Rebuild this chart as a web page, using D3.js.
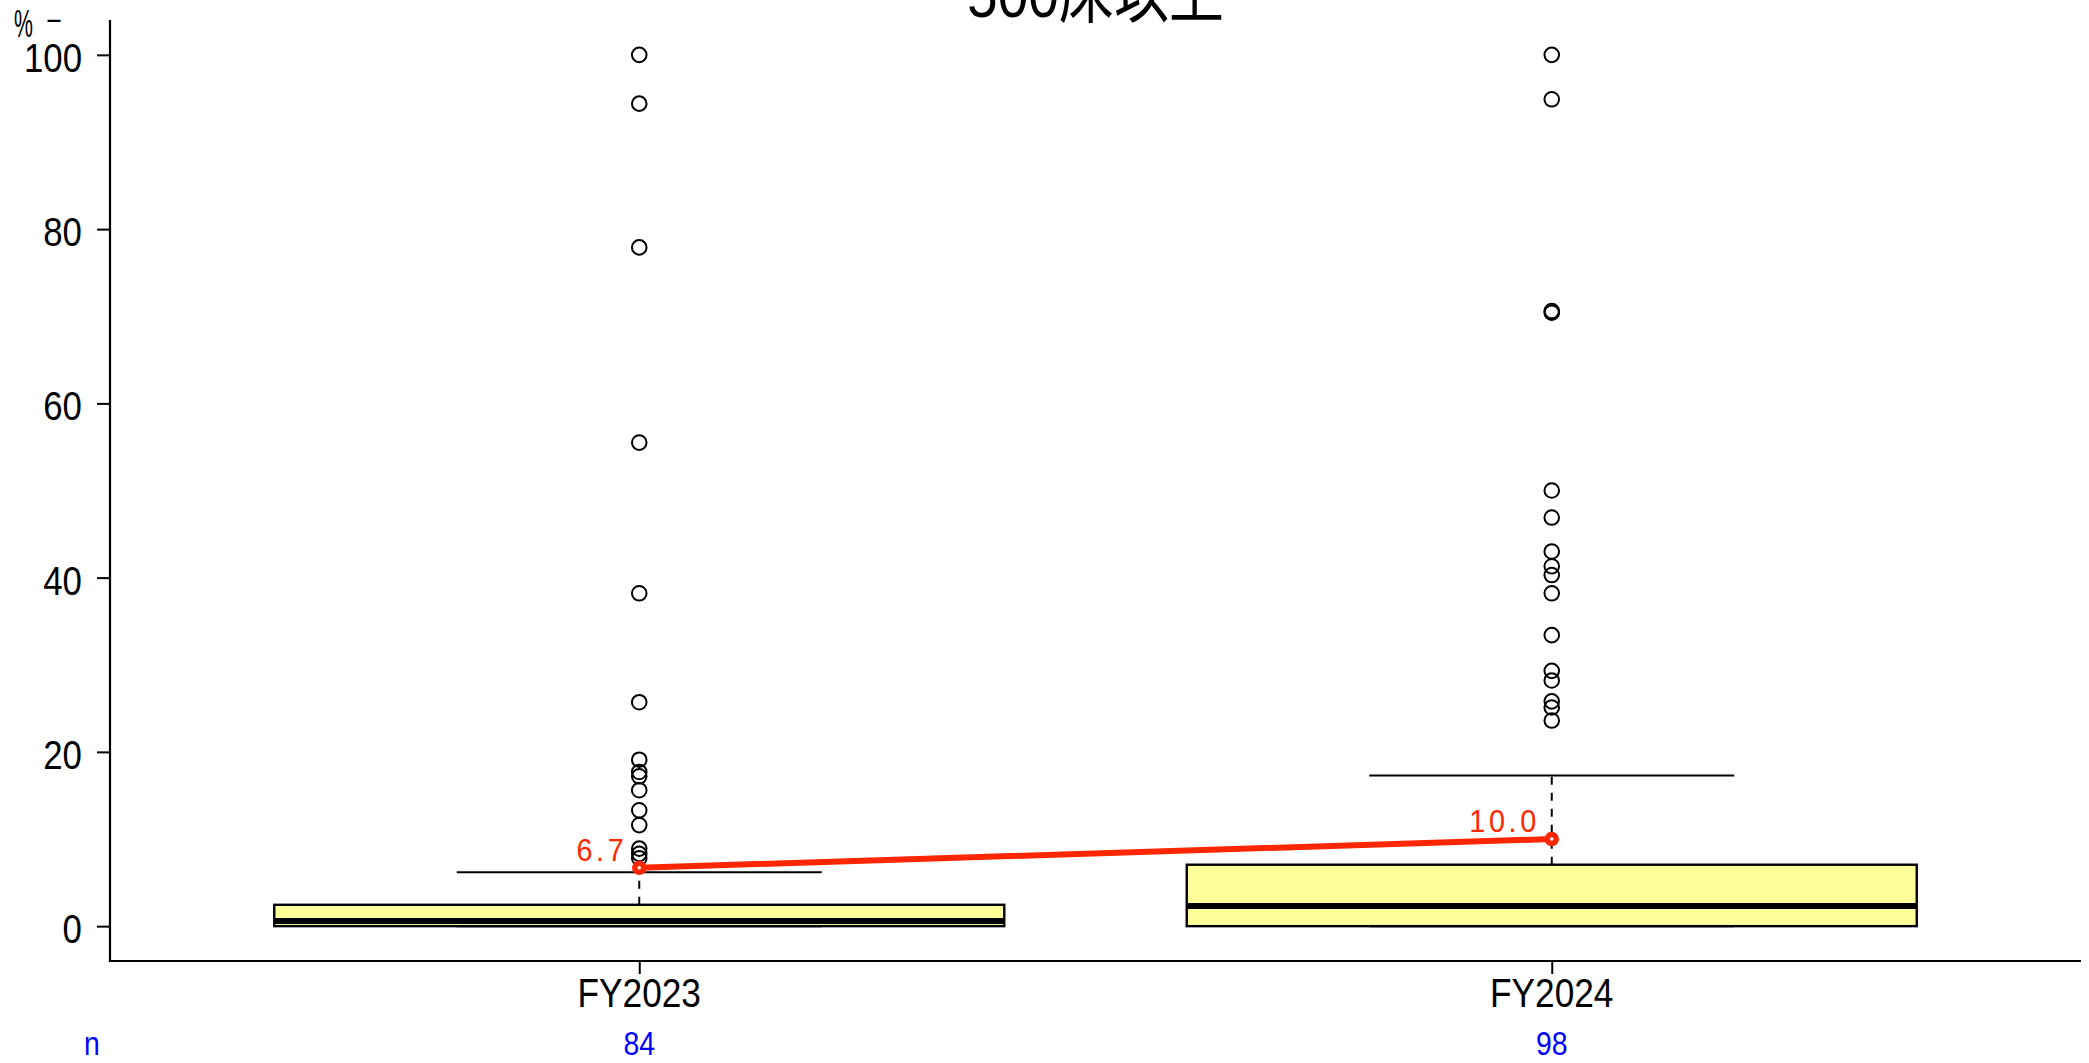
<!DOCTYPE html>
<html>
<head>
<meta charset="utf-8">
<script src="https://cdn.jsdelivr.net/npm/d3@7"></script>
<style>
  html, body { margin: 0; padding: 0; background: #fff; }
  svg { display: block; }
  text { font-family: "Liberation Sans", Arial, "Noto Sans CJK JP", sans-serif; }
</style>
</head>
<body>
<svg id="chart" width="2089" height="1063"></svg>
<script>
// ---- data ----
const title = "500床以上";
const categories = ["FY2023", "FY2024"];
const counts = [84, 98];
const q1Values = [0, 0];
const medianValues = [0.6, 2.3];
const q3Values = [2.45, 7.05];
const whiskerLow = [0, 0];
const whiskerHigh = [6.2, 17.3];
const meanValues = [6.7, 10.0];
const meanLabels = ["6.7", "10.0"];
const outliersFY2023 = [100, 94.4, 77.9, 55.5, 38.2, 25.7, 19.1, 17.7, 17.2, 15.6, 13.3, 11.6, 8.9, 8.3, 7.8];
const outliersFY2024 = [100, 94.9, 70.6, 70.4, 50.0, 46.9, 43.0, 41.3, 40.3, 38.2, 33.4, 29.3, 28.2, 25.8, 25.1, 23.6];
const outlierSets = [outliersFY2023, outliersFY2024];
const yTicks = [0, 20, 40, 60, 80, 100];
const yUnit = "%";

(function () {
  const svg = d3.select("#chart");
  const pL = 110, pR = 2081, pT = 20, pB = 961;
  const x = d3.scaleLinear().domain([0.42, 2.58]).range([pL, pR]);
  const y = d3.scaleLinear().domain([-4, 104]).range([pB, pT]);
  const SX = 0.86;
  const boxW = 0.8, capW = 0.4;
  const red = "#FF2600";

  function ctext(g, tx, ty, str, size, anchor, fill, sx) {
    return g.append("text")
      .attr("transform", `translate(${tx},${ty}) scale(${sx === undefined ? SX : sx},1)`)
      .attr("text-anchor", anchor)
      .attr("font-size", size)
      .attr("fill", fill || "#000")
      .text(str);
  }

  // axes
  const yAxis = d3.axisLeft(y).tickValues(yTicks).tickSize(13).tickFormat("");
  const gy = svg.append("g").attr("transform", `translate(${pL},0)`).call(yAxis);
  gy.select(".domain").remove();
  gy.selectAll(".tick line").attr("stroke", "#000").attr("stroke-width", 2);

  const xAxis = d3.axisBottom(x).tickValues([1, 2]).tickSize(13).tickFormat("");
  const gx = svg.append("g").attr("transform", `translate(0,${pB})`).call(xAxis);
  gx.select(".domain").remove();
  gx.selectAll(".tick line").attr("stroke", "#000").attr("stroke-width", 2);

  svg.append("path")
    .attr("d", `M${pL},${pT}V${pB}H${pR}`)
    .attr("fill", "none").attr("stroke", "#000").attr("stroke-width", 2.2);

  yTicks.forEach(t => ctext(svg, 82, y(t) + 17, String(t), 40.5, "end"));
  categories.forEach((c, i) => ctext(svg, x(i + 1), 1007, c, 41, "middle"));

  ctext(svg, 14, 37, yUnit, 38, "start", "#000", 0.56);
  ctext(svg, 46, 31, "−", 31, "start");

  ctext(svg, (pL + pR) / 2, 17, title, 64, "middle");

  ctext(svg, 92, 1055, "n", 33, "middle", "#0000FF");
  counts.forEach((n, i) => ctext(svg, x(i + 1), 1055, String(n), 33, "middle", "#0000FF"));

  categories.forEach((c, i) => {
    const cx = x(i + 1);
    const bw = x(1 + boxW / 2) - x(1);
    const cw = x(1 + capW / 2) - x(1);
    const g = svg.append("g");
    g.append("rect")
      .attr("x", cx - bw).attr("width", 2 * bw)
      .attr("y", y(q3Values[i])).attr("height", y(q1Values[i]) - y(q3Values[i]))
      .attr("fill", "#FFFF99").attr("stroke", "#000").attr("stroke-width", 2.4);
    g.append("line").attr("x1", cx).attr("x2", cx)
      .attr("y1", y(q3Values[i])).attr("y2", y(whiskerHigh[i]))
      .attr("stroke", "#000").attr("stroke-width", 2).attr("stroke-dasharray", "8,8");
    g.append("line").attr("x1", cx).attr("x2", cx)
      .attr("y1", y(q1Values[i])).attr("y2", y(whiskerLow[i]))
      .attr("stroke", "#000").attr("stroke-width", 2).attr("stroke-dasharray", "8,8");
    [whiskerHigh[i], whiskerLow[i]].forEach(v => {
      g.append("line").attr("x1", cx - cw).attr("x2", cx + cw)
        .attr("y1", y(v)).attr("y2", y(v))
        .attr("stroke", "#000").attr("stroke-width", 2);
    });
    g.append("line").attr("x1", cx - bw).attr("x2", cx + bw)
      .attr("y1", y(medianValues[i])).attr("y2", y(medianValues[i]))
      .attr("stroke", "#000").attr("stroke-width", 6);
    g.selectAll("circle.out").data(outlierSets[i]).enter().append("circle")
      .attr("class", "out")
      .attr("cx", cx).attr("cy", d => y(d)).attr("r", 7.3)
      .attr("fill", "none").attr("stroke", "#000").attr("stroke-width", 2);
  });

  const meanLine = d3.line().x((d, i) => x(i + 1)).y(d => y(d));
  svg.append("path").datum(meanValues)
    .attr("d", meanLine)
    .attr("fill", "none").attr("stroke", red).attr("stroke-width", 6)
    .attr("stroke-linecap", "round");
  svg.selectAll("circle.mean").data(meanValues).enter().append("circle")
    .attr("class", "mean")
    .attr("cx", (d, i) => x(i + 1)).attr("cy", d => y(d)).attr("r", 4.5)
    .attr("fill", "#fff").attr("stroke", red).attr("stroke-width", 5.5);
  meanValues.forEach((m, i) => {
    svg.append("text")
      .attr("transform", `translate(${x(i + 1) - 12},${y(m) - 7}) scale(0.9,1)`)
      .attr("text-anchor", "end")
      .attr("font-size", 32)
      .attr("letter-spacing", 4)
      .attr("fill", red)
      .text(meanLabels[i]);
  });
})();
</script>
</body>
</html>
